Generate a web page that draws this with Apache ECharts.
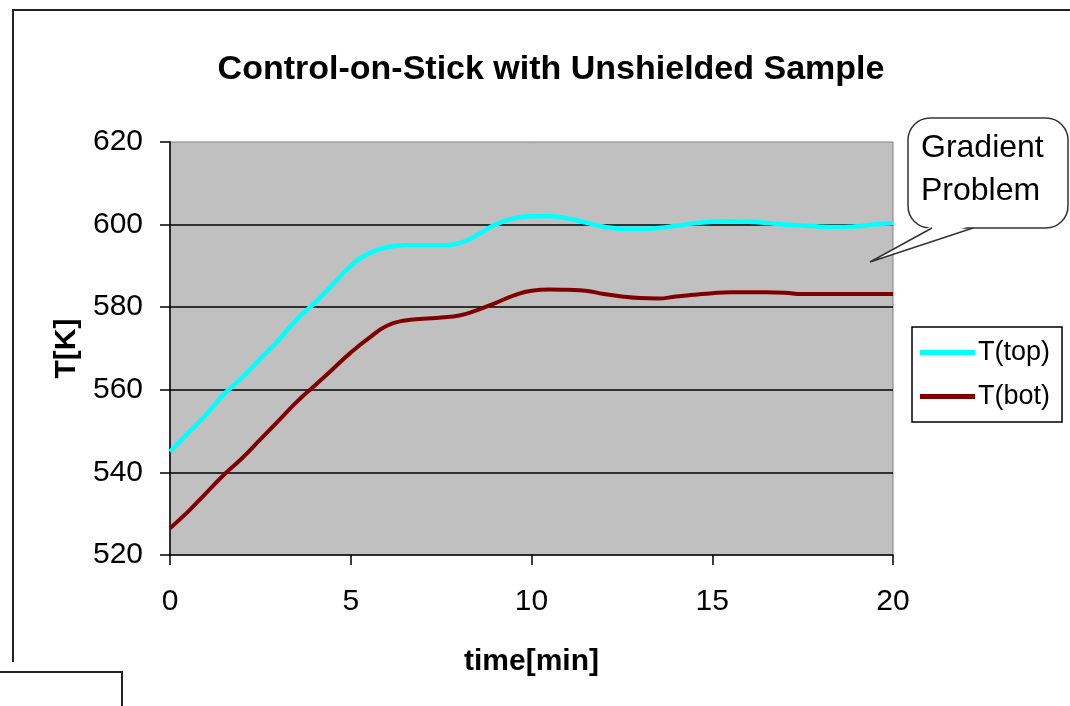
<!DOCTYPE html>
<html>
<head>
<meta charset="utf-8">
<script src="https://cdn.jsdelivr.net/npm/echarts@6/dist/echarts.min.js"></script>
<style>html,body{margin:0;padding:0;background:#fff;}#c{width:1070px;height:706px;}</style>
</head>
<body>
<div id="c"></div>
<script>
const timeMin = [0,0.5,1,1.5,2,2.5,3,3.5,4,4.5,5,5.5,6,6.5,7,7.5,8,8.5,9,9.5,10,10.5,11,11.5,12,12.5,13,13.5,14,14.5,15,15.5,16,16.5,17,17.5,18,18.5,19,19.5,20];
const tTop = [545,549.5,554,559,563,567.5,572,577,581,585.5,590,593,594.5,595,595,595,595.5,597.5,600,601.5,602,602,601.5,600.5,599.5,599,599,599.2,599.7,600.3,600.7,600.8,600.7,600.4,600,599.8,599.5,599.4,599.6,600,600.3];
const tBot = [526.5,530.5,535,539.5,543.5,548,552.5,557,561,565,569,572.5,575.5,576.8,577.2,577.5,578,579.3,581,582.8,584,584.3,584.2,584,583.2,582.6,582.2,582.1,582.6,583,583.4,583.6,583.6,583.6,583.5,583.2,583.2,583.2,583.2,583.2,583.2];
const seriesNames = ['T(top)','T(bot)'];
const titleText = 'Control-on-Stick with Unshielded Sample';
const calloutLines = ['Gradient','Problem'];

const zip = (xs, ys) => xs.map((x, i) => [x, ys[i]]);
const F = 'Arial, "Liberation Sans", sans-serif';

const chart = echarts.init(document.getElementById('c'), null, {renderer: 'canvas'});
chart.setOption({
  animation: false,
  backgroundColor: '#fff',
  title: {
    text: titleText,
    left: 546, top: 48, textAlign: 'center',
    textStyle: {fontFamily: F, fontWeight: 'bold', fontSize: 34, color: '#000'}
  },
  grid: {
    left: 170, top: 142, right: 177, bottom: 151,
    show: true, backgroundColor: '#c0c0c0', borderColor: '#808080', borderWidth: 1
  },
  legend: {
    orient: 'vertical', left: 912, top: 327,
    padding: [12, 12, 12, 8], itemGap: 17,
    itemWidth: 55, itemHeight: 5, icon: 'rect',
    backgroundColor: '#fff', borderColor: '#000', borderWidth: 1.5,
    textStyle: {fontFamily: F, fontSize: 27, color: '#000', padding: [0, 0, 0, -2]},
    data: seriesNames
  },
  xAxis: {
    type: 'value', min: 0, max: 20, interval: 5,
    name: 'time[min]', nameLocation: 'middle', nameGap: 92,
    nameTextStyle: {fontFamily: F, fontWeight: 'bold', fontSize: 30, color: '#000'},
    axisLine: {show: true, lineStyle: {color: '#000', width: 1.5}},
    axisTick: {show: true, length: 10, lineStyle: {color: '#000', width: 1.5}},
    axisLabel: {fontFamily: F, fontSize: 30, color: '#000', margin: 32},
    splitLine: {show: false}
  },
  yAxis: {
    type: 'value', min: 520, max: 620, interval: 20,
    name: 'T[K]', nameLocation: 'middle', nameGap: 66,
    nameTextStyle: {fontFamily: F, fontWeight: 'bold', fontSize: 30, color: '#000'},
    axisLine: {show: true, lineStyle: {color: '#000', width: 1.5}},
    axisTick: {show: true, length: 10, lineStyle: {color: '#000', width: 1.5}},
    axisLabel: {fontFamily: F, fontSize: 30, color: '#000', margin: 27},
    splitLine: {show: true, showMinLine: false, showMaxLine: false, lineStyle: {color: '#000', width: 1.5}}
  },
  series: [
    {name: seriesNames[0], type: 'line', data: zip(timeMin, tTop), smooth: true, showSymbol: false,
     lineStyle: {color: '#00ffff', width: 4.5}, itemStyle: {color: '#00ffff'}},
    {name: seriesNames[1], type: 'line', data: zip(timeMin, tBot), smooth: true, showSymbol: false,
     lineStyle: {color: '#800000', width: 4}, itemStyle: {color: '#800000'}}
  ],
  graphic: [
    {type: 'polyline', z: 100, shape: {points: [[1070, 10], [13, 10], [13, 662]]},
     style: {stroke: '#222', lineWidth: 2, fill: null}},
    {type: 'polyline', z: 100, shape: {points: [[0, 672], [122, 672], [122, 706]]},
     style: {stroke: '#222', lineWidth: 2, fill: null}},
    {type: 'rect', z: 100, shape: {x: 908, y: 118, width: 160, height: 110, r: 22},
     style: {fill: '#fff', stroke: '#333', lineWidth: 1.5}},
    {type: 'polygon', z: 101, shape: {points: [[933, 225], [972, 225], [870, 262]]},
     style: {fill: '#fff', stroke: null}},
    {type: 'polyline', z: 102, shape: {points: [[932, 228], [870, 262], [973, 228]]},
     style: {stroke: '#333', lineWidth: 1.5, fill: null}},
    {type: 'text', z: 103, style: {x: 921, y: 148, text: calloutLines[0], fontFamily: F, fontSize: 32, fill: '#000', verticalAlign: 'middle'}},
    {type: 'text', z: 103, style: {x: 921, y: 191, text: calloutLines[1], fontFamily: F, fontSize: 32, fill: '#000', verticalAlign: 'middle'}}
  ]
});
</script>
</body>
</html>
